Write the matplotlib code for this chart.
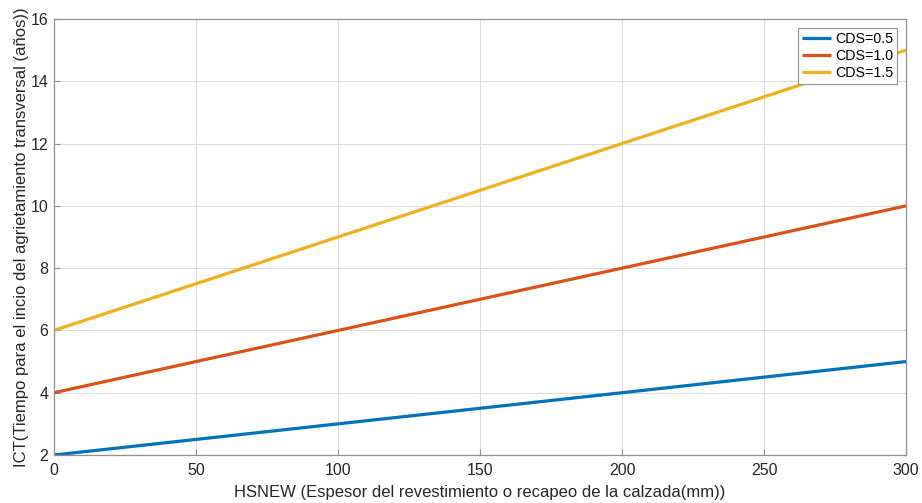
import matplotlib
matplotlib.use("Agg")
import matplotlib.pyplot as plt
import numpy as np

plt.rcParams['font.family'] = ['Liberation Sans', 'DejaVu Sans']

hsnew = [0, 300]
cds_labels = ["CDS=0.5", "CDS=1.0", "CDS=1.5"]
ict_05 = [2, 5]
ict_10 = [4, 10]
ict_15 = [6, 15]
colors = ["#0072BD", "#D95319", "#EDB120"]
xticks = [0, 50, 100, 150, 200, 250, 300]
yticks = [2, 4, 6, 8, 10, 12, 14, 16]

fig = plt.figure(figsize=(9.22, 5.03), dpi=100)
ax = fig.add_axes([54/922, 1-455/503, (906-54)/922, (455-19)/503])

for y, c, lab in zip([ict_05, ict_10, ict_15], colors, cds_labels):
    ax.plot(hsnew, y, color=c, lw=2.3, label=lab, solid_capstyle='butt')

ax.set_xlim(0, 300)
ax.set_ylim(2, 16)
ax.set_xticks(xticks)
ax.set_yticks(yticks)
ax.grid(True, color='#dcdcdc', lw=0.8)
ax.set_axisbelow(True)
for s in ax.spines.values():
    s.set_color('#909090')
    s.set_linewidth(0.9)
ax.tick_params(direction='in', length=4, color='#909090', labelsize=11.5, labelcolor='#262626', pad=4)
ax.tick_params(axis='x', pad=6)
ax.set_xlabel("HSNEW (Espesor del revestimiento o recapeo de la calzada(mm))", fontsize=12, color='#262626', labelpad=5)
ax.set_ylabel("ICT(Tiempo para el incio del agrietamiento transversal (años))", fontsize=12, color='#262626', labelpad=1)
leg = ax.legend(loc='upper right', fontsize=10.3, frameon=True, fancybox=False, framealpha=1,
                edgecolor='#909090', handlelength=2.0, handletextpad=0.3, borderpad=0.3,
                labelspacing=0.2, borderaxespad=0.6)
leg.get_frame().set_linewidth(0.8)

fig.savefig("out.png", dpi=100)
